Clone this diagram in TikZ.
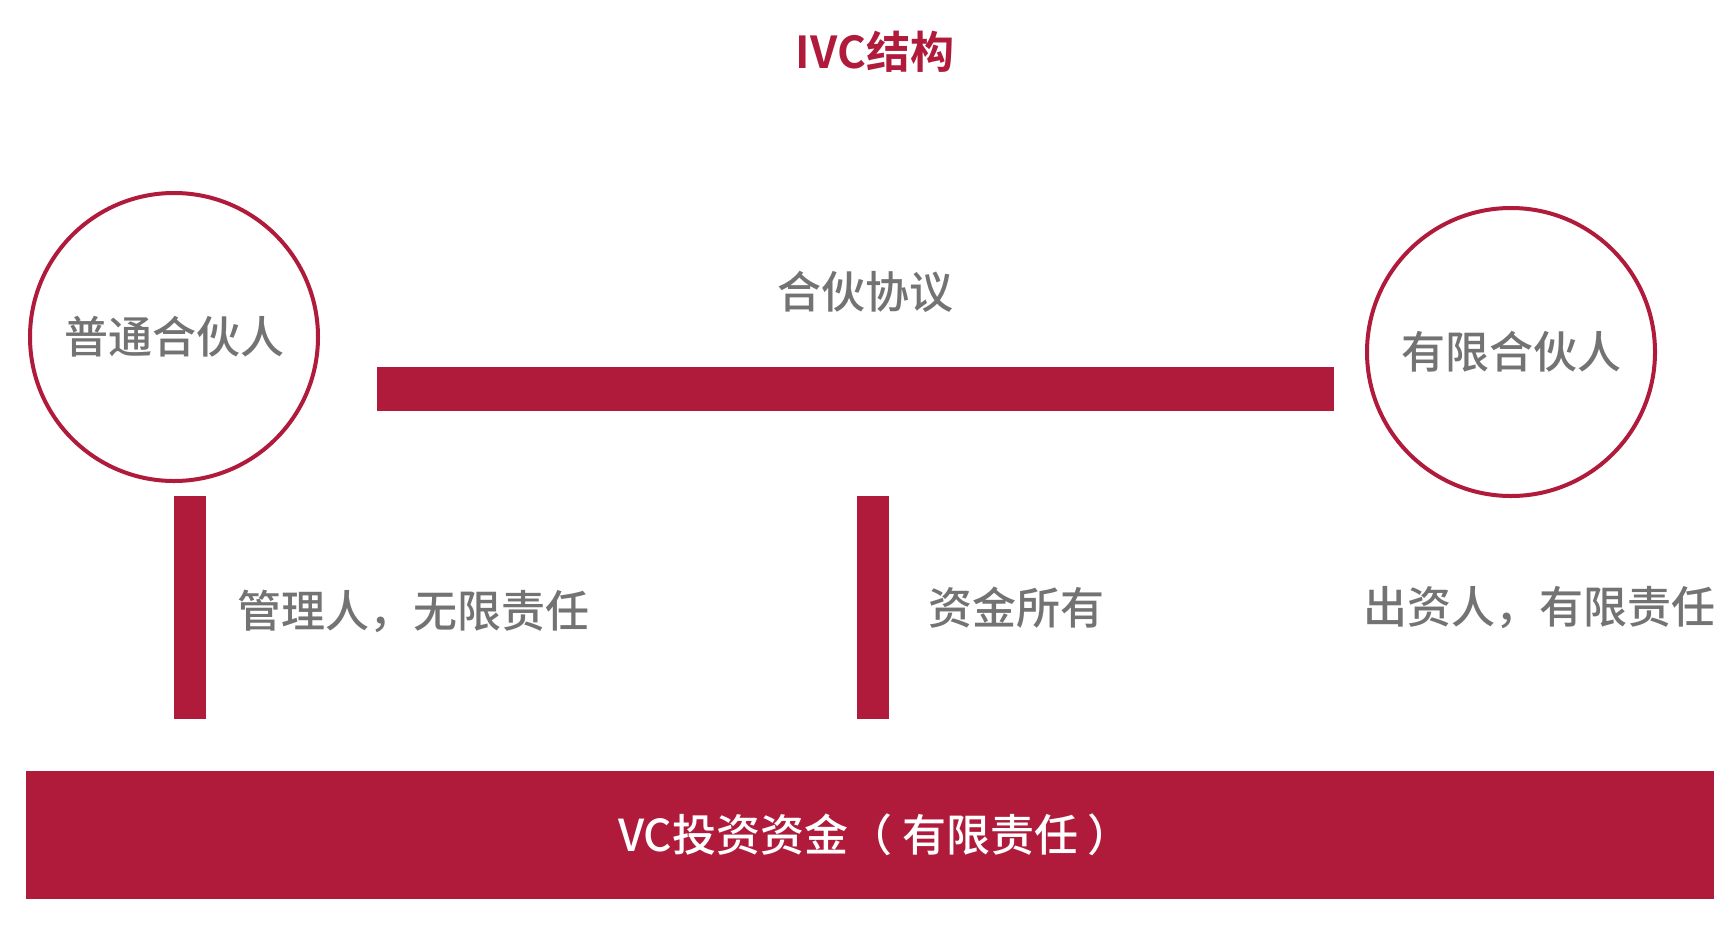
\documentclass[tikz,border=0pt]{standalone}
\usepackage{fontspec}
\setmainfont{Noto Sans CJK SC}[BoldFont={Noto Sans CJK SC Medium}]
\newfontfamily\titlefont{Noto Sans CJK SC Bold}
\usepackage{tikz}
\definecolor{ivcred}{HTML}{B01B3C}
\definecolor{txtgray}{HTML}{737373}

\begin{document}
\begin{tikzpicture}[x=0.5pt,y=-0.5pt,
    lbl/.style={font=\bfseries\fontsize{22pt}{26pt}\selectfont,text=txtgray,inner sep=0pt},
    partner/.style={circle,draw=ivcred,line width=2pt,minimum size=144pt,lbl},
    bar/.style={fill=ivcred,inner sep=0pt}]
            \useasboundingbox (0,0) rectangle (1728,932);
            \node[inner sep=0pt,text=ivcred,font=\titlefont\fontsize{22pt}{26pt}\selectfont] (title) at (875,52) {IVC结构};
            \node[partner] (gp) at (174,337) {普通合伙人};
            \node[partner] (lp) at (1511,352) {有限合伙人};
            \node[lbl] (agree) at (865,292) {合伙协议};
            \node[bar,minimum width=478.5pt,minimum height=22pt] (deal) at (855.5,389) {};
            \foreach \x/\n in {190/gpbar,872.5/fundbar}
                \node[bar,minimum width=16pt,minimum height=111.5pt] (\n) at (\x,607.5) {};
            \node[lbl] (gprole) at (413.5,611) {管理人，无限责任};
            \node[lbl] (own) at (1016,608) {资金所有};
            \node[lbl] (lprole) at (1539.5,608) {出资人，有限责任};
            \node[bar,minimum width=844pt,minimum height=64pt] (fund) at (870,835) {};
            \node[lbl,text=white] (fundtxt) at (fund.center) [xshift=2.5pt] {VC投资资金（ 有限责任 ）};
        \end{tikzpicture}
\end{document}
